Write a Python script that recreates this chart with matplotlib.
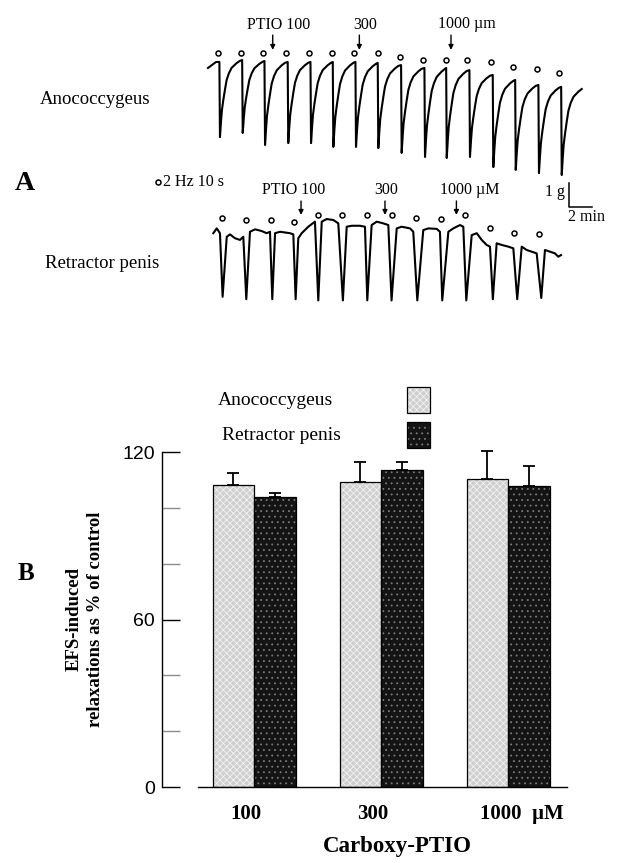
import numpy as np
import matplotlib
matplotlib.use('Agg')
import matplotlib.pyplot as plt
from matplotlib.patches import Rectangle
from matplotlib import transforms

W, H = 618, 863
plt.rcParams['font.family'] = ['Liberation Serif', 'DejaVu Serif']
plt.rcParams['hatch.linewidth'] = 0.6
fig = plt.figure(figsize=(W / 100, H / 100), dpi=100)

def fx(px):
    return px / W

def fy(py):
    return 1 - py / H

# ---------------- panel A data (time in min, tension in g) ----------------
# anococcygeus: stimulation times, level just before each relaxation, trough of each relaxation
an_stim = [1.04, 3.02, 4.96, 6.98, 8.96, 10.90, 12.87, 14.81, 16.84, 18.87, 20.76, 22.78, 24.81, 26.76, 28.78, 30.76]
an_plateau = [-0.04, 0.04, 0.00, -0.04, -0.04, -0.04, -0.04, -0.08, -0.17, -0.29, -0.29, -0.38, -0.58, -0.79, -1.00, -1.08]
an_trough = [-3.17, -3.00, -3.50, -3.42, -3.42, -3.58, -3.58, -3.63, -3.83, -4.00, -4.04, -4.00, -4.42, -4.54, -4.67, -4.75]
an_start = [0.00, -0.29]
an_pre = [0.70, -0.04]
an_end_level = -1.13
# recovery shape after each relaxation (time after trough, fraction of the relaxation left)
rec_dt = [0.0, 0.09, 0.17, 0.29, 0.44, 0.58, 0.78, 1.02, 1.45, 1.74]
rec_frac = [1.0, 0.80, 0.65, 0.52, 0.38, 0.26, 0.17, 0.10, 0.04, 0.01]
an_circle_t = [0.87, 2.87, 4.81, 6.76, 8.81, 10.76, 12.70, 14.76, 16.70, 18.72, 20.67, 22.55, 24.58, 26.55, 28.58, 30.52]
an_circle_g = [0.35, 0.35, 0.35, 0.35, 0.35, 0.35, 0.35, 0.35, 0.15, 0.04, 0.04, 0.04, -0.04, -0.25, -0.33, -0.50]
an_drug_t = [5.63, 13.16, 21.13]

# retractor penis: digitised baseline, relaxation times and troughs
rp_t = [0.46, 0.76, 1.04,
        1.63, 1.91, 2.35, 2.78, 3.07,
        3.65, 4.09, 4.67, 5.10, 5.39,
        5.83, 6.26, 7.13, 7.42,
        7.85, 8.15, 8.72, 9.30,
        9.89, 10.32, 10.90, 11.33,
        12.06, 12.50, 13.22, 13.65,
        14.23, 14.67, 15.24, 15.68,
        16.41, 16.84, 17.57, 17.85,
        18.72, 19.16, 19.89, 20.17,
        20.90, 21.33, 21.91, 22.20,
        22.93, 23.37, 23.80, 24.23, 24.52,
        25.10, 25.54, 26.11, 26.55,
        27.28, 27.71, 28.15, 28.58,
        29.30, 29.74, 30.17, 30.46, 30.70]
rp_g = [-0.05, 0.15, -0.05,
        -0.20, -0.10, -0.26, -0.33, -0.20,
        0.01, 0.11, 0.04, -0.05, 0.01,
        -0.05, 0.01, -0.05, -0.10,
        -0.26, -0.05, 0.22, 0.43,
        0.43, 0.54, 0.50, 0.36,
        0.22, 0.26, 0.26, 0.22,
        0.29, 0.43, 0.36, 0.29,
        0.15, 0.22, 0.15, 0.01,
        0.08, 0.15, 0.13, 0.01,
        0.01, 0.15, 0.29, 0.22,
        -0.13, -0.05, -0.33, -0.54, -0.61,
        -0.47, -0.54, -0.61, -0.68,
        -0.61, -0.75, -0.82, -0.89,
        -0.75, -0.82, -0.89, -1.03, -0.96]
rp_drop = [1.22, 3.28, 5.54, 7.57, 9.54, 11.68, 13.80, 15.91, 18.15, 20.32, 22.41, 24.72, 26.84, 28.93]
rp_trough = [-2.70, -2.80, -2.80, -2.80, -2.85, -2.85, -2.85, -2.85, -2.85, -2.85, -2.85, -2.80, -2.80, -2.75]
rp_circle_t = [1.19, 3.28, 5.45, 7.50, 9.59, 11.68, 13.85, 15.97, 18.06, 20.23, 22.35, 24.52, 26.63, 28.77]
rp_circle_g = [0.60, 0.50, 0.50, 0.40, 0.71, 0.71, 0.71, 0.71, 0.60, 0.53, 0.71, 0.15, -0.03, -0.10]
rp_drug_t = [8.09, 15.39, 21.60]

# ---------------- panel B data ----------------
conc_labels = ['100', '300', '1000  \u00b5M']
an_mean = [108.2, 109.1, 110.3]
an_sem = [4.1, 7.4, 10.1]
rp_mean = [103.8, 113.5, 107.9]
rp_sem = [1.4, 3.0, 7.1]

# ---------------- panel A ----------------
PX_MIN, PX_G, T0_PX, AN0_PX, RP0_PX, A_BOT = 11.5, 24.0, 208, 61, 232, 310
axA = fig.add_axes([0, fy(A_BOT), 1, A_BOT / H])
axA.set_xlim(-T0_PX / PX_MIN, (W - T0_PX) / PX_MIN)
axA.set_ylim((AN0_PX - A_BOT) / PX_G, AN0_PX / PX_G)
axA.axis('off')
rp_off = -(RP0_PX - AN0_PX) / PX_G

# anococcygeus trace
targets = an_plateau[1:] + [an_end_level]
at = [an_start[0], an_pre[0]]
ag = [an_start[1], an_pre[1]]
for i, ts in enumerate(an_stim):
    at += [ts - 0.05, ts]
    ag += [an_plateau[i], an_trough[i]]
    for dt, fr in zip(rec_dt[1:], rec_frac[1:]):
        at.append(ts + dt)
        ag.append(targets[i] + (an_trough[i] - targets[i]) * fr)
axA.plot(at, ag, color='black', lw=1.5, solid_joinstyle='round')
axA.plot(an_circle_t, an_circle_g, 'o', ms=3.6, mfc='white', mec='black', mew=1.1)

# retractor penis trace
pts = list(zip(rp_t, rp_g)) + [(d + 0.05, tr) for d, tr in zip(rp_drop, rp_trough)]
pts.sort()
rt = [p[0] for p in pts]
rg = [p[1] + rp_off for p in pts]
axA.plot(rt, rg, color='black', lw=1.5, solid_joinstyle='round')
axA.plot(rp_circle_t, np.array(rp_circle_g) + rp_off, 'o', ms=3.6, mfc='white', mec='black', mew=1.1)

# drug addition arrows
for t in an_drug_t:
    axA.annotate('', xy=(t, 0.46), xytext=(t, 1.08),
                 arrowprops=dict(arrowstyle='-|>', color='black', lw=1.0, mutation_scale=7, shrinkA=0, shrinkB=0))
for t in rp_drug_t:
    axA.annotate('', xy=(t, 0.71 + rp_off), xytext=(t, 1.29 + rp_off),
                 arrowprops=dict(arrowstyle='-|>', color='black', lw=1.0, mutation_scale=7, shrinkA=0, shrinkB=0))

# scale bar: 1 g, 2 min
sb_t = (569 - T0_PX) / PX_MIN
sb_g = (AN0_PX - 207) / PX_G
axA.plot([sb_t, sb_t, sb_t + 2], [sb_g + 1, sb_g, sb_g], color='black', lw=1.1)

# stimulus key
axA.plot([fx(158)], [fy(182)], 'o', ms=3.6, mfc='white', mec='black', mew=1.1, transform=fig.transFigure)

def txt(x, y, s, size=11.5, ha='center', **kw):
    fig.text(fx(x), fy(y), s, fontsize=size, ha=ha, va='center', **kw)

txt(40, 100, 'Anococcygeus', 13.5, ha='left')
txt(45, 264, 'Retractor penis', 13.5, ha='left')
txt(25, 183, 'A', 20, fontweight='bold')
txt(163, 182, '2 Hz 10 s', 11.5, ha='left')
txt(279, 25, 'PTIO 100')
txt(365, 25, '300')
txt(467, 24, '1000 \u00b5m')
txt(294, 190, 'PTIO 100')
txt(386, 190, '300')
txt(470, 190, '1000 \u00b5M')
txt(565, 192, '1 g', 11.5, ha='right')
txt(586, 217, '2 min', 11.5)

# ---------------- panel B ----------------
GRP_PX, G0_PX = 127.0, 254
axB = fig.add_axes([fx(162), fy(787), (567 - 162) / W, (787 - 452) / H])
x = np.arange(len(an_mean))
bw = 41.5 / GRP_PX
axB.set_xlim(-(G0_PX - 162) / GRP_PX, (567 - G0_PX) / GRP_PX)
axB.set_ylim(0, 120)

an_face, an_hatch = '#cfcfcf', '#f2f2f2'
rp_face, rp_hatch = '#141414', '#7a7a7a'
for xs, m, face, hcol, hatch in [(x - bw / 2, an_mean, an_face, an_hatch, 'xxxxx'),
                                 (x + bw / 2, rp_mean, rp_face, rp_hatch, '...')]:
    axB.bar(xs, m, bw, color=face, lw=0, zorder=2)
    axB.bar(xs, m, bw, fill=False, hatch=hatch, edgecolor=hcol, lw=0, zorder=2.5)
    axB.bar(xs, m, bw, fill=False, edgecolor='black', lw=0.9, zorder=3)
for xs, m, e in [(x - bw / 2, an_mean, an_sem), (x + bw / 2, rp_mean, rp_sem)]:
    eb = axB.errorbar(xs, m, yerr=[np.zeros(3), e], fmt='none', ecolor='black',
                      elinewidth=1.3, capsize=4.3, capthick=1.3, zorder=4)
    for art in eb.lines[1] + eb.lines[2]:
        art.set_clip_on(False)

axB.spines['top'].set_visible(False)
axB.spines['right'].set_visible(False)
axB.spines['left'].set_linewidth(1.0)
axB.spines['bottom'].set_linewidth(1.0)
axB.spines['bottom'].set_bounds(-(G0_PX - 198) / GRP_PX, (567 - G0_PX) / GRP_PX)

axB.set_yticks([0, 60, 120])
axB.set_yticks([20, 40, 80, 100], minor=True)
axB.tick_params(axis='y', which='major', direction='in', length=13, width=1.0, pad=5, labelsize=14)
axB.tick_params(axis='y', which='minor', direction='in', length=13, width=1.0, color='#8c8c8c')
for lab in axB.get_yticklabels():
    lab.set_family(['Liberation Sans', 'DejaVu Sans'])

axB.set_xticks(x)
axB.set_xticklabels(conc_labels, fontsize=15, fontweight='bold')
axB.tick_params(axis='x', length=0, pad=12)
shift = transforms.ScaledTranslation(-8 / 100, 0, fig.dpi_scale_trans)
for i, lab in enumerate(axB.get_xticklabels()):
    lab.set_transform(lab.get_transform() + shift)
    if i == 2:
        lab.set_transform(lab.get_transform() + transforms.ScaledTranslation(22 / 100, 0, fig.dpi_scale_trans))

txt(397, 846, 'Carboxy-PTIO', 16.5, fontweight='bold')
fig.text(fx(84.5), fy(619), 'EFS-induced\nrelaxations as % of control', fontsize=13.5, fontweight='bold',
         rotation=90, ha='center', va='center', multialignment='center', linespacing=1.35)
txt(26, 574, 'B', 18, fontweight='bold')

# legend keys
txt(218, 400, 'Anococcygeus', 14, ha='left')
txt(222, 435, 'Retractor penis', 14, ha='left')
for y0, face, hcol, hatch in [(387, an_face, an_hatch, 'xxxxx'), (422, rp_face, rp_hatch, '...')]:
    box = (fx(407), fy(y0 + 26))
    fig.add_artist(Rectangle(box, 23 / W, 26 / H, transform=fig.transFigure, facecolor=face, lw=0))
    fig.add_artist(Rectangle(box, 23 / W, 26 / H, transform=fig.transFigure,
                             fill=False, hatch=hatch, edgecolor=hcol, lw=0))
    fig.add_artist(Rectangle(box, 23 / W, 26 / H, transform=fig.transFigure,
                             fill=False, edgecolor='black', lw=0.9))

fig.savefig('out.png', dpi=100)
